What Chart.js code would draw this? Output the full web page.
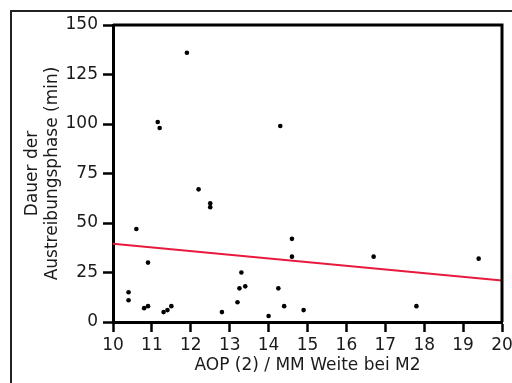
<!DOCTYPE html>
<html>
<head>
<meta charset="utf-8">
<script src="https://cdn.jsdelivr.net/npm/chart.js@4/dist/chart.umd.min.js"></script>
<style>
  html, body { margin: 0; padding: 0; background: #fff; overflow: hidden; }
  #frame { position: absolute; left: 10px; top: 10px; width: 700px; height: 700px; border-left: 2px solid #222; border-top: 2px solid #222; }
  #wrap { position: absolute; left: 0; top: 0; width: 512px; height: 383px; }
</style>
</head>
<body>
<div id="frame"></div>
<div id="wrap"><canvas id="c" width="512" height="383"></canvas></div>
<script>
// Data
const xValues = [11.9, 11.15, 11.2, 14.3, 10.4, 10.4, 10.6, 10.8, 10.9, 10.9, 11.3, 11.4, 11.5, 12.2, 12.5, 12.5, 12.8, 13.2, 13.25, 13.3, 13.4, 14.0, 14.25, 14.4, 14.6, 14.6, 14.9, 16.7, 17.8, 19.4];
const yValues = [136, 101, 98, 99, 15, 11, 47, 7, 8, 30, 5, 6, 8, 67, 60, 58, 5, 10, 17, 25, 18, 3, 17, 8, 42, 33, 6, 33, 8, 32];
const fitX = [10, 20];
const fitY = [39.5, 21.0];
const xTitle = 'AOP (2) / MM Weite bei M2';
const yTitle = ['Dauer der', 'Austreibungsphase (min)'];

const points = xValues.map((x, i) => ({ x: x, y: yValues[i] }));
const fitLine = fitX.map((x, i) => ({ x: x, y: fitY[i] }));

const FONT = 'DejaVu Sans';
const TXT = '#1a1a1a';

const frameBox = {
  id: 'frameBox',
  afterDatasetsDraw(chart) {
    const a = chart.chartArea, ctx = chart.ctx;
    ctx.save();
    ctx.strokeStyle = '#000';
    ctx.lineWidth = 3;
    ctx.beginPath();
    ctx.moveTo(a.left, a.top);
    ctx.lineTo(a.right, a.top);
    ctx.lineTo(a.right, a.bottom);
    ctx.stroke();
    ctx.restore();
  }
};

new Chart(document.getElementById('c'), {
  type: 'scatter',
  data: {
    datasets: [
      {
        label: 'Regression',
        type: 'line',
        data: fitLine,
        borderColor: '#e8193c',
        borderWidth: 2,
        pointRadius: 0,
        fill: false,
        order: 2
      },
      {
        label: 'Werte',
        data: points,
        backgroundColor: '#000',
        borderWidth: 0,
        pointRadius: 2.3,
        order: 1
      }
    ]
  },
  options: {
    responsive: false,
    animation: false,
    devicePixelRatio: 1,
    layout: { padding: { top: 25, right: 10, bottom: 0, left: 0 } },
    plugins: { legend: { display: false }, tooltip: { enabled: false } },
    scales: {
      x: {
        type: 'linear',
        min: 10, max: 20,
        ticks: { stepSize: 1, color: TXT, padding: 3, font: { family: FONT, size: 17 } },
        grid: { display: true, drawOnChartArea: false, drawTicks: true, tickLength: 10, tickWidth: 2.5, tickColor: '#000' },
        border: { display: true, color: '#000', width: 3 },
        title: { display: true, text: xTitle, color: TXT, font: { family: FONT, size: 17 }, padding: { top: 0, bottom: 7 } },
        afterFit(scale) { scale.height = 61; scale.paddingLeft = 0; scale.paddingRight = 0; }
      },
      y: {
        type: 'linear',
        min: 0, max: 150,
        ticks: { stepSize: 25, color: TXT, padding: 5, font: { family: FONT, size: 17 } },
        grid: { display: true, drawOnChartArea: false, drawTicks: true, tickLength: 10, tickWidth: 2.5, tickColor: '#000' },
        border: { display: true, color: '#000', width: 3 },
        title: { display: true, text: yTitle, color: TXT, font: { family: FONT, size: 17 }, padding: { top: 22, bottom: 0 } },
        afterFit(scale) { scale.width = 113; scale.paddingTop = 0; scale.paddingBottom = 0; }
      }
    }
  },
  plugins: [frameBox]
});
</script>
</body>
</html>
